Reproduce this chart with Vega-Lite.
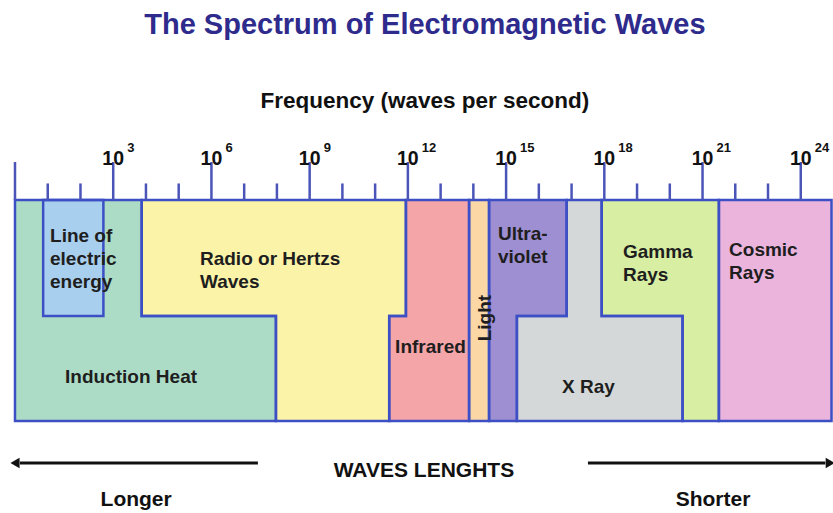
{
  "$schema": "https://vega.github.io/schema/vega-lite/v6.json",
  "width": 833,
  "height": 513,
  "padding": 0,
  "autosize": {"type": "none"},
  "background": "white",
  "config": {"view": {"stroke": null}},
  "datasets": {
    "fills": [
      {"region": "Induction Heat", "d": 0, "d2": 3.87, "lv": 0, "lv2": 5.25},
      {"region": "Induction Heat", "d": 0, "d2": 7.97, "lv": 5.25, "lv2": 10},
      {"region": "Line of electric energy", "d": 0.86, "d2": 2.7, "lv": 0, "lv2": 5.25},
      {"region": "Radio or Hertzs Waves", "d": 3.87, "d2": 11.94, "lv": 0, "lv2": 5.25},
      {"region": "Radio or Hertzs Waves", "d": 7.97, "d2": 11.43, "lv": 5.25, "lv2": 10},
      {"region": "Infrared", "d": 11.94, "d2": 13.87, "lv": 0, "lv2": 5.25},
      {"region": "Infrared", "d": 11.43, "d2": 13.87, "lv": 5.25, "lv2": 10},
      {"region": "Light", "d": 13.87, "d2": 14.48, "lv": 0, "lv2": 10},
      {"region": "Ultra-violet", "d": 14.48, "d2": 16.85, "lv": 0, "lv2": 5.25},
      {"region": "Ultra-violet", "d": 14.48, "d2": 15.33, "lv": 5.25, "lv2": 10},
      {"region": "X Ray", "d": 16.85, "d2": 17.92, "lv": 0, "lv2": 5.25},
      {"region": "X Ray", "d": 15.33, "d2": 20.39, "lv": 5.25, "lv2": 10},
      {"region": "Gamma Rays", "d": 17.92, "d2": 21.5, "lv": 0, "lv2": 5.25},
      {"region": "Gamma Rays", "d": 20.39, "d2": 21.5, "lv": 5.25, "lv2": 10},
      {"region": "Cosmic Rays", "d": 21.5, "d2": 24.94, "lv": 0, "lv2": 10}
    ],
    "outline": [
      {"region": "Induction Heat", "i": 0, "d": 0, "lv": 0},
      {"region": "Induction Heat", "i": 1, "d": 3.87, "lv": 0},
      {"region": "Induction Heat", "i": 2, "d": 3.87, "lv": 5.25},
      {"region": "Induction Heat", "i": 3, "d": 7.97, "lv": 5.25},
      {"region": "Induction Heat", "i": 4, "d": 7.97, "lv": 10},
      {"region": "Induction Heat", "i": 5, "d": 0, "lv": 10},
      {"region": "Induction Heat", "i": 6, "d": 0, "lv": 0},
      {"region": "Line of electric energy", "i": 0, "d": 0.86, "lv": 0},
      {"region": "Line of electric energy", "i": 1, "d": 2.7, "lv": 0},
      {"region": "Line of electric energy", "i": 2, "d": 2.7, "lv": 5.25},
      {"region": "Line of electric energy", "i": 3, "d": 0.86, "lv": 5.25},
      {"region": "Line of electric energy", "i": 4, "d": 0.86, "lv": 0},
      {"region": "Radio or Hertzs Waves", "i": 0, "d": 3.87, "lv": 0},
      {"region": "Radio or Hertzs Waves", "i": 1, "d": 11.94, "lv": 0},
      {"region": "Radio or Hertzs Waves", "i": 2, "d": 11.94, "lv": 5.25},
      {"region": "Radio or Hertzs Waves", "i": 3, "d": 11.43, "lv": 5.25},
      {"region": "Radio or Hertzs Waves", "i": 4, "d": 11.43, "lv": 10},
      {"region": "Radio or Hertzs Waves", "i": 5, "d": 7.97, "lv": 10},
      {"region": "Radio or Hertzs Waves", "i": 6, "d": 7.97, "lv": 5.25},
      {"region": "Radio or Hertzs Waves", "i": 7, "d": 3.87, "lv": 5.25},
      {"region": "Radio or Hertzs Waves", "i": 8, "d": 3.87, "lv": 0},
      {"region": "Infrared", "i": 0, "d": 11.94, "lv": 0},
      {"region": "Infrared", "i": 1, "d": 13.87, "lv": 0},
      {"region": "Infrared", "i": 2, "d": 13.87, "lv": 10},
      {"region": "Infrared", "i": 3, "d": 11.43, "lv": 10},
      {"region": "Infrared", "i": 4, "d": 11.43, "lv": 5.25},
      {"region": "Infrared", "i": 5, "d": 11.94, "lv": 5.25},
      {"region": "Infrared", "i": 6, "d": 11.94, "lv": 0},
      {"region": "Light", "i": 0, "d": 13.87, "lv": 0},
      {"region": "Light", "i": 1, "d": 14.48, "lv": 0},
      {"region": "Light", "i": 2, "d": 14.48, "lv": 10},
      {"region": "Light", "i": 3, "d": 13.87, "lv": 10},
      {"region": "Light", "i": 4, "d": 13.87, "lv": 0},
      {"region": "Ultra-violet", "i": 0, "d": 14.48, "lv": 0},
      {"region": "Ultra-violet", "i": 1, "d": 16.85, "lv": 0},
      {"region": "Ultra-violet", "i": 2, "d": 16.85, "lv": 5.25},
      {"region": "Ultra-violet", "i": 3, "d": 15.33, "lv": 5.25},
      {"region": "Ultra-violet", "i": 4, "d": 15.33, "lv": 10},
      {"region": "Ultra-violet", "i": 5, "d": 14.48, "lv": 10},
      {"region": "Ultra-violet", "i": 6, "d": 14.48, "lv": 0},
      {"region": "X Ray", "i": 0, "d": 16.85, "lv": 0},
      {"region": "X Ray", "i": 1, "d": 17.92, "lv": 0},
      {"region": "X Ray", "i": 2, "d": 17.92, "lv": 5.25},
      {"region": "X Ray", "i": 3, "d": 20.39, "lv": 5.25},
      {"region": "X Ray", "i": 4, "d": 20.39, "lv": 10},
      {"region": "X Ray", "i": 5, "d": 15.33, "lv": 10},
      {"region": "X Ray", "i": 6, "d": 15.33, "lv": 5.25},
      {"region": "X Ray", "i": 7, "d": 16.85, "lv": 5.25},
      {"region": "X Ray", "i": 8, "d": 16.85, "lv": 0},
      {"region": "Gamma Rays", "i": 0, "d": 17.92, "lv": 0},
      {"region": "Gamma Rays", "i": 1, "d": 21.5, "lv": 0},
      {"region": "Gamma Rays", "i": 2, "d": 21.5, "lv": 10},
      {"region": "Gamma Rays", "i": 3, "d": 20.39, "lv": 10},
      {"region": "Gamma Rays", "i": 4, "d": 20.39, "lv": 5.25},
      {"region": "Gamma Rays", "i": 5, "d": 17.92, "lv": 5.25},
      {"region": "Gamma Rays", "i": 6, "d": 17.92, "lv": 0},
      {"region": "Cosmic Rays", "i": 0, "d": 21.5, "lv": 0},
      {"region": "Cosmic Rays", "i": 1, "d": 24.94, "lv": 0},
      {"region": "Cosmic Rays", "i": 2, "d": 24.94, "lv": 10},
      {"region": "Cosmic Rays", "i": 3, "d": 21.5, "lv": 10},
      {"region": "Cosmic Rays", "i": 4, "d": 21.5, "lv": 0}
    ],
    "ticks": [
      {"d": 0, "kind": "major", "exp": ""},
      {"d": 1, "kind": "minor", "exp": ""},
      {"d": 2, "kind": "minor", "exp": ""},
      {"d": 3, "kind": "major", "exp": "3"},
      {"d": 4, "kind": "minor", "exp": ""},
      {"d": 5, "kind": "minor", "exp": ""},
      {"d": 6, "kind": "major", "exp": "6"},
      {"d": 7, "kind": "minor", "exp": ""},
      {"d": 8, "kind": "minor", "exp": ""},
      {"d": 9, "kind": "major", "exp": "9"},
      {"d": 10, "kind": "minor", "exp": ""},
      {"d": 11, "kind": "minor", "exp": ""},
      {"d": 12, "kind": "major", "exp": "12"},
      {"d": 13, "kind": "minor", "exp": ""},
      {"d": 14, "kind": "minor", "exp": ""},
      {"d": 15, "kind": "major", "exp": "15"},
      {"d": 16, "kind": "minor", "exp": ""},
      {"d": 17, "kind": "minor", "exp": ""},
      {"d": 18, "kind": "major", "exp": "18"},
      {"d": 19, "kind": "minor", "exp": ""},
      {"d": 20, "kind": "minor", "exp": ""},
      {"d": 21, "kind": "major", "exp": "21"},
      {"d": 22, "kind": "minor", "exp": ""},
      {"d": 23, "kind": "minor", "exp": ""},
      {"d": 24, "kind": "major", "exp": "24"}
    ],
    "labels": [
      {"text": "Line of\nelectric\nenergy", "d": 1.07, "lv": 1.9},
      {"text": "Radio or Hertzs\nWaves", "d": 5.65, "lv": 2.94},
      {"text": "Induction Heat", "d": 1.53, "lv": 8.28},
      {"text": "Infrared", "d": 11.61, "lv": 6.92},
      {"text": "Ultra-\nviolet", "d": 14.75, "lv": 1.81},
      {"text": "Gamma\nRays", "d": 18.57, "lv": 2.62},
      {"text": "Cosmic\nRays", "d": 21.81, "lv": 2.53},
      {"text": "X Ray", "d": 16.71, "lv": 8.73}
    ]
  },
  "encoding": {
    "x": {"field": "d", "type": "quantitative", "scale": {"domain": [-0.458, 24.985], "nice": false, "zero": false}, "axis": null}
  },
  "layer": [
    {
      "data": {"name": "fills"},
      "mark": {"type": "rect", "strokeWidth": 0},
      "encoding": {
        "y": {"field": "lv", "type": "quantitative", "scale": {"domain": [-9.05, 14.16], "reverse": true, "nice": false, "zero": false}, "axis": null},
        "x2": {"field": "d2"},
        "y2": {"field": "lv2"},
        "color": {
          "field": "region", "type": "nominal", "legend": null,
          "scale": {
            "domain": ["Induction Heat", "Line of electric energy", "Radio or Hertzs Waves", "Infrared", "Light", "Ultra-violet", "X Ray", "Gamma Rays", "Cosmic Rays"],
            "range": ["#acdcc6", "#a9cfee", "#fbf3a8", "#f4a5a8", "#fbd7a6", "#9e8fd2", "#d5d8d9", "#d7eea3", "#eab4dd"]
          }
        }
      }
    },
    {
      "data": {"name": "outline"},
      "mark": {"type": "line", "color": "#3d4fc4", "strokeWidth": 2.5, "strokeJoin": "miter", "strokeCap": "square"},
      "encoding": {
        "y": {"field": "lv", "type": "quantitative", "scale": {"domain": [-9.05, 14.16], "reverse": true, "nice": false, "zero": false}, "axis": null},
        "detail": {"field": "region", "type": "nominal"},
        "order": {"field": "i", "type": "quantitative"}
      }
    },
    {
      "data": {"name": "ticks"},
      "transform": [{"filter": "datum.kind == 'major'"}],
      "mark": {"type": "rule", "color": "#4b55b8", "strokeWidth": 2.5},
      "encoding": {
        "y": {"datum": -1.72, "type": "quantitative", "scale": {"domain": [-9.05, 14.16], "reverse": true, "nice": false, "zero": false}, "axis": null},
        "y2": {"datum": 0}
      }
    },
    {
      "data": {"name": "ticks"},
      "transform": [{"filter": "datum.kind == 'minor'"}],
      "mark": {"type": "rule", "color": "#4b55b8", "strokeWidth": 2.5},
      "encoding": {
        "y": {"datum": -0.75, "type": "quantitative", "scale": {"domain": [-9.05, 14.16], "reverse": true, "nice": false, "zero": false}, "axis": null},
        "y2": {"datum": 0}
      }
    },
    {
      "data": {"name": "ticks"},
      "transform": [{"filter": "datum.exp != ''"}],
      "mark": {"type": "text", "text": "10", "font": "Liberation Sans, Arial, sans-serif", "fontWeight": "bold", "fontSize": 19.5, "align": "center", "baseline": "alphabetic", "color": "#111111"},
      "encoding": {
        "y": {"datum": -1.58, "type": "quantitative", "scale": {"domain": [-9.05, 14.16], "reverse": true, "nice": false, "zero": false}, "axis": null}
      }
    },
    {
      "data": {"name": "ticks"},
      "transform": [{"filter": "datum.exp != ''"}],
      "mark": {"type": "text", "dx": 14, "font": "Liberation Sans, Arial, sans-serif", "fontWeight": "bold", "fontSize": 13, "align": "left", "baseline": "alphabetic", "color": "#111111"},
      "encoding": {
        "y": {"datum": -2.19, "type": "quantitative", "scale": {"domain": [-9.05, 14.16], "reverse": true, "nice": false, "zero": false}, "axis": null},
        "text": {"field": "exp", "type": "nominal"}
      }
    },
    {
      "data": {"name": "labels"},
      "mark": {"type": "text", "font": "Liberation Sans, Arial, sans-serif", "fontWeight": "bold", "fontSize": 19, "align": "left", "baseline": "alphabetic", "lineBreak": "\n", "lineHeight": 23, "color": "#1e1e1e"},
      "encoding": {
        "y": {"field": "lv", "type": "quantitative", "scale": {"domain": [-9.05, 14.16], "reverse": true, "nice": false, "zero": false}, "axis": null},
        "text": {"field": "text", "type": "nominal"}
      }
    },
    {
      "data": {"values": [{"text": "Light", "d": 14.36, "lv": 5.34}]},
      "mark": {"type": "text", "angle": 270, "font": "Liberation Sans, Arial, sans-serif", "fontWeight": "bold", "fontSize": 19, "align": "center", "baseline": "middle", "color": "#1e1e1e"},
      "encoding": {
        "y": {"field": "lv", "type": "quantitative", "scale": {"domain": [-9.05, 14.16], "reverse": true, "nice": false, "zero": false}, "axis": null},
        "text": {"field": "text", "type": "nominal"}
      }
    },
    {
      "data": {"values": [{"text": "The Spectrum of Electromagnetic Waves", "d": 12.52, "lv": -7.5}]},
      "mark": {"type": "text", "font": "Liberation Sans, Arial, sans-serif", "fontWeight": "bold", "fontSize": 29, "align": "center", "baseline": "alphabetic", "color": "#2e2b8c"},
      "encoding": {
        "y": {"field": "lv", "type": "quantitative", "scale": {"domain": [-9.05, 14.16], "reverse": true, "nice": false, "zero": false}, "axis": null},
        "text": {"field": "text", "type": "nominal"}
      }
    },
    {
      "data": {"values": [{"text": "Frequency (waves per second)", "d": 12.52, "lv": -4.16}]},
      "mark": {"type": "text", "font": "Liberation Sans, Arial, sans-serif", "fontWeight": "bold", "fontSize": 22.5, "align": "center", "baseline": "alphabetic", "color": "#111111"},
      "encoding": {
        "y": {"field": "lv", "type": "quantitative", "scale": {"domain": [-9.05, 14.16], "reverse": true, "nice": false, "zero": false}, "axis": null},
        "text": {"field": "text", "type": "nominal"}
      }
    },
    {
      "data": {"values": [
        {"text": "WAVES LENGHTS", "d": 12.49, "lv": 12.53},
        {"text": "Longer", "d": 3.7, "lv": 13.85},
        {"text": "Shorter", "d": 21.32, "lv": 13.85}
      ]},
      "mark": {"type": "text", "font": "Liberation Sans, Arial, sans-serif", "fontWeight": "bold", "fontSize": 21, "align": "center", "baseline": "alphabetic", "color": "#111111"},
      "encoding": {
        "y": {"field": "lv", "type": "quantitative", "scale": {"domain": [-9.05, 14.16], "reverse": true, "nice": false, "zero": false}, "axis": null},
        "text": {"field": "text", "type": "nominal"}
      }
    },
    {
      "data": {"values": [
        {"d": 0.15, "d2": 7.42, "lv": 11.9},
        {"d": 17.5, "d2": 24.75, "lv": 11.9}
      ]},
      "mark": {"type": "rule", "color": "#111111", "strokeWidth": 3},
      "encoding": {
        "y": {"field": "lv", "type": "quantitative", "scale": {"domain": [-9.05, 14.16], "reverse": true, "nice": false, "zero": false}, "axis": null},
        "x2": {"field": "d2"}
      }
    },
    {
      "data": {"values": [
        {"d": 0.0, "lv": 11.9, "dir": "left"},
        {"d": 24.9, "lv": 11.9, "dir": "right"}
      ]},
      "mark": {"type": "point", "filled": true, "color": "#111111", "size": 110, "strokeWidth": 0, "opacity": 1},
      "encoding": {
        "y": {"field": "lv", "type": "quantitative", "scale": {"domain": [-9.05, 14.16], "reverse": true, "nice": false, "zero": false}, "axis": null},
        "shape": {"field": "dir", "type": "nominal", "legend": null, "scale": {"domain": ["left", "right"], "range": ["triangle-left", "triangle-right"]}}
      }
    }
  ]
}
